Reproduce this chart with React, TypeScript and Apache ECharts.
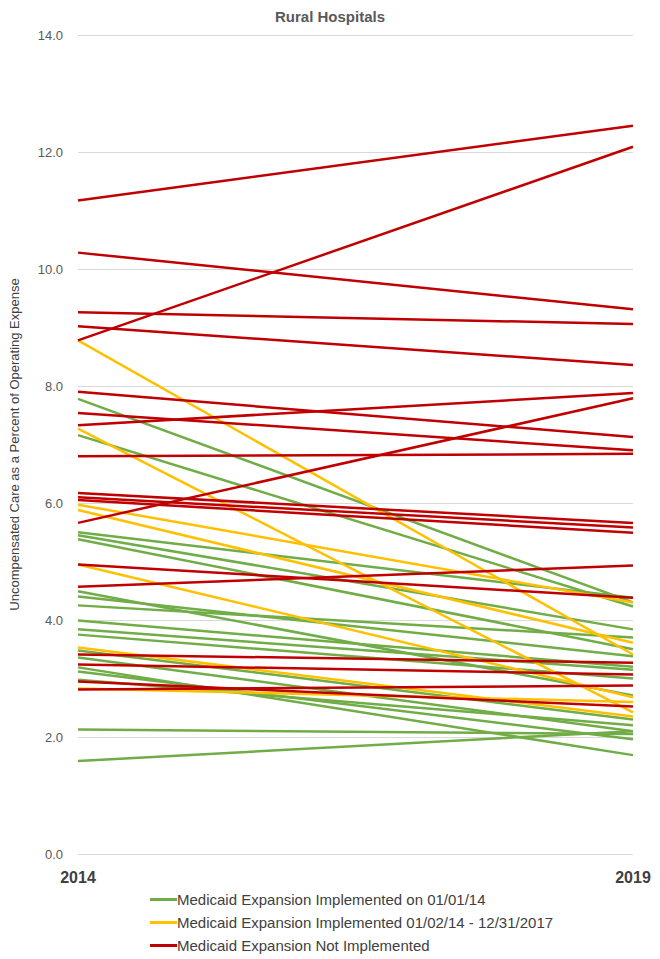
import React, { useEffect, useRef } from "react";
import * as echarts from "echarts";

const years = ["2014", "2019"];
const yTicks = [0, 2, 4, 6, 8, 10, 12, 14];

const groupNames = [
  "Medicaid Expansion Implemented on 01/01/14",
  "Medicaid Expansion Implemented 01/02/14 - 12/31/2017",
  "Medicaid Expansion Not Implemented",
];
const groupColors = ["#70AD47", "#FFC000", "#C00000"];

const greenStart = [7.78, 7.16, 5.5, 5.45, 5.38, 4.49, 4.4, 4.25, 3.99, 3.84, 3.75, 3.48, 3.36, 3.19, 3.12, 2.98, 2.13, 1.59];
const greenEnd = [4.3, 4.23, 4.38, 3.84, 3.5, 2.71, 3.38, 3.7, 3.2, 3.15, 3.0, 2.3, 2.1, 1.69, 1.96, 2.2, 2.05, 2.1];

const yellowStart = [8.78, 7.27, 5.97, 5.88, 4.95, 3.53, 2.83];
const yellowEnd = [3.41, 2.42, 4.3, 3.61, 2.68, 2.35, 2.6];

const redStart = [11.17, 8.78, 10.28, 9.26, 9.02, 7.9, 7.54, 7.33, 6.8, 6.17, 6.1, 6.05, 5.66, 4.95, 4.57, 3.41, 3.24, 2.95, 2.81];
const redEnd = [12.45, 12.09, 9.31, 9.06, 8.36, 7.13, 6.9, 7.88, 6.84, 5.66, 5.58, 5.49, 7.79, 4.38, 4.93, 3.27, 3.07, 2.52, 2.88];

const groups = [
  { start: greenStart, end: greenEnd },
  { start: yellowStart, end: yellowEnd },
  { start: redStart, end: redEnd },
];

export default function App() {
  const ref = useRef<HTMLDivElement>(null);
  useEffect(() => {
    document.body.style.margin = "0";
    const chart = echarts.init(ref.current!, null, { renderer: "svg" });
    const series: any[] = [];
    groups.forEach((g, gi) => {
      g.start.forEach((s, i) => {
        series.push({
          type: "line",
          name: groupNames[gi],
          data: [s, g.end[i]],
          symbol: "none",
          color: groupColors[gi],
          lineStyle: { width: 2.5, color: groupColors[gi] },
          itemStyle: { color: groupColors[gi] },
          silent: true,
        });
      });
    });
    chart.setOption({
      animation: false,
      textStyle: { fontFamily: "Liberation Sans" },
      title: {
        text: "Rural Hospitals",
        left: "center",
        top: 4,
        textStyle: { fontSize: 15, fontWeight: "bold", color: "#595959", fontFamily: "Liberation Sans" },
      },
      grid: { left: 76, right: 27, top: 35, bottom: 105 },
      xAxis: {
        type: "category",
        data: years,
        boundaryGap: false,
        axisLine: { show: false },
        axisTick: { show: false },
        axisLabel: { fontSize: 16, fontWeight: "bold", color: "#404040", margin: 15 },
      },
      yAxis: {
        type: "value",
        min: yTicks[0],
        max: yTicks[yTicks.length - 1],
        interval: 2,
        name: "Uncompensated Care as a Percent of Operating Expense",
        nameLocation: "middle",
        nameGap: 57,
        nameTextStyle: { fontSize: 13, color: "#404040" },
        axisLine: { show: false },
        axisTick: { show: false },
        axisLabel: { formatter: (v: number) => v.toFixed(1), fontSize: 13, color: "#595959", margin: 15 },
        splitLine: { lineStyle: { color: "#d9d9d9", width: 1 } },
      },
      legend: {
        data: groupNames,
        orient: "vertical",
        left: 145,
        top: 887,
        itemWidth: 27,
        itemHeight: 3,
        itemGap: 8,
        icon: "rect",
        textStyle: { fontSize: 15, color: "#404040", padding: [0, 0, 0, -5] },
        selectedMode: false,
      },
      series,
    });
    return () => chart.dispose();
  }, []);
  return <div ref={ref} style={{ width: 660, height: 959 }} />;
}
